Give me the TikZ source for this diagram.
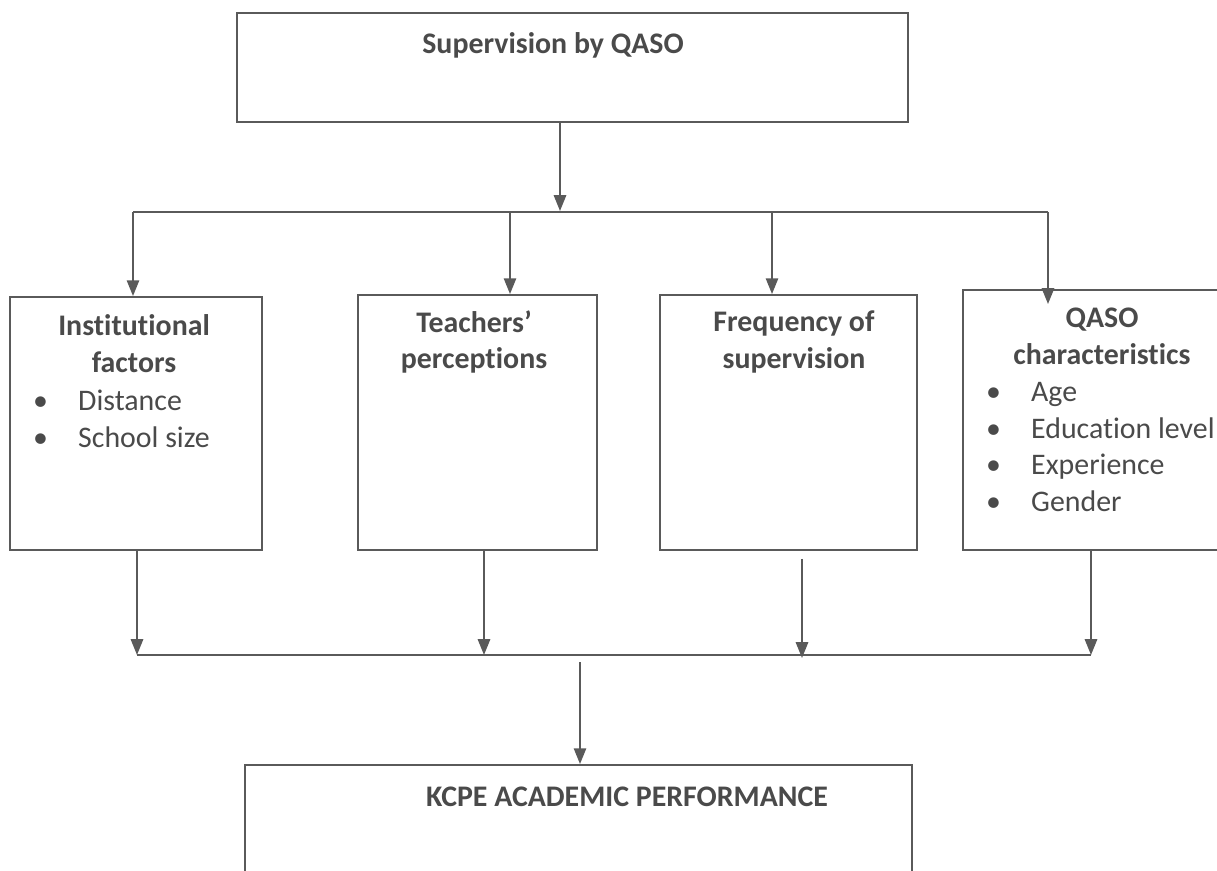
\documentclass[tikz,border=0pt]{standalone}
\usepackage{fontspec}
\setmainfont[Ligatures=NoCommon]{Carlito}
\usetikzlibrary{arrows.meta}
\definecolor{inkgray}{HTML}{4A4A4A}
\definecolor{linegray}{HTML}{5A5A5A}
\newcommand{\bitem}[1]{\makebox[0.9cm][l]{\textbullet}#1}

\begin{document}
\begin{tikzpicture}
		[x=0.02cm,y=-0.02cm,
		every node/.style={text=inkgray,font=\fontsize{17}{21}\selectfont},
		box/.style={rectangle,draw=linegray,line width=1.1pt,inner sep=0pt},
		title/.style={font=\fontsize{17}{21}\selectfont\bfseries,align=center},
		items/.style={align=left,anchor=west},
		bus/.style={draw=linegray,line width=1.1pt},
		arr/.style={bus,-{Triangle[length=9pt,width=7pt]}}]
		\useasboundingbox (0,0) rectangle (1217,870);
		\clip (0,0) rectangle (1217,870);
		% boxes
		\node[box,minimum width=13.42cm,minimum height=2.18cm] (super) at (572.5,67.5) {};
		\node[box,minimum width=5.04cm,minimum height=5.06cm] (inst) at (136,423.5) {};
		\node[box,minimum width=4.78cm,minimum height=5.1cm] (teach) at (477.5,422.5) {};
		\node[box,minimum width=5.14cm,minimum height=5.1cm] (freq) at (788.5,422.5) {};
		\node[box,minimum width=5.54cm,minimum height=5.2cm] (qaso) at (1101.5,420) {};
		\node[box,minimum width=13.34cm,minimum height=2.7cm] (kcpe) at (578.5,832.5) {};
		% texts
		\node[title] (super-title) at (553,45) {Supervision by QASO};
		\node[title] (inst-title) at (134,344) {Institutional\\factors};
		\node[items] (inst-list) at (27,418.5) {\bitem{Distance}\\\bitem{School size}};
		\node[title] (teach-title) at (474,342) {Teachers'\\perceptions};
		\node[title] (freq-title) at (794,342) {Frequency of\\supervision};
		\node[title] (qaso-title) at (1102,336) {QASO\\characteristics};
		\node[items] (qaso-list) at (980,447) {\bitem{Age}\\\bitem{Education level}\\\bitem{Experience}\\\bitem{Gender}};
		\node[title] (kcpe-title) at (627,797) {KCPE ACADEMIC PERFORMANCE};
		% bus coordinates
		\coordinate (split) at (560,211);
		\coordinate (t1) at (133,212);
		\coordinate (t2) at (510,212);
		\coordinate (t3) at (772,212);
		\coordinate (t4) at (1048,212);
		\coordinate (q4) at (1048,304);
		\coordinate (m1) at (137,655);
		\coordinate (m2) at (484,655);
		\coordinate (m3) at (802,658);
		\coordinate (m4) at (1091,655);
		\coordinate (join) at (580,662);
		% connectors
		\draw[arr] (super.south -| split) -- (split);
		\draw[bus] (t1) -- (t4);
		\draw[arr] (t1) -- (t1 |- inst.north);
		\draw[arr] (t2) -- (t2 |- teach.north);
		\draw[arr] (t3) -- (t3 |- freq.north);
		\draw[arr] (t4) -- (q4);
		\draw[arr] (inst.south -| m1) -- (m1);
		\draw[arr] (teach.south -| m2) -- (m2);
		\draw[arr,shorten <=0.16cm] (freq.south -| m3) -- (m3);
		\draw[arr] (qaso.south -| m4) -- (m4);
		\draw[bus] (m1) -- (m4);
		\draw[arr] (join) -- (join |- kcpe.north);
	\end{tikzpicture}
\end{document}
